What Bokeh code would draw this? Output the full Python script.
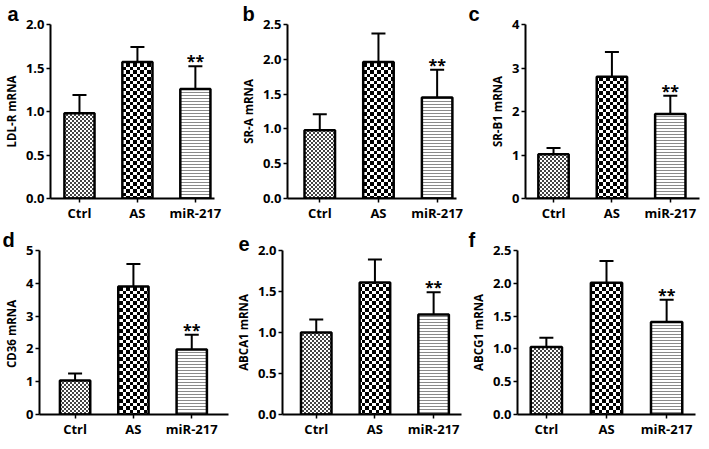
import zlib, struct, base64
from bokeh.plotting import figure
from bokeh.layouts import column, row
from bokeh.models import (Range1d, FixedTicker, Label, ImageURLTexture, Whisker,
                          ColumnDataSource, NumeralTickFormatter, TeeHead)
from bokeh.core.properties import value
from bokeh.embed import file_html
from bokeh.resources import INLINE

# ---------------- data ----------------
categories = ["Ctrl", "AS", "miR-217"]
panel_letters = ["a", "b", "c", "d", "e", "f"]
y_titles = ["LDL-R mRNA", "SR-A mRNA", "SR-B1 mRNA", "CD36  mRNA", "ABCA1 mRNA", "ABCG1 mRNA"]
marks = ["", "", "**"]

mean_a = [0.98, 1.57, 1.26]
sd_a = [0.21, 0.17, 0.26]
mean_b = [0.98, 1.96, 1.45]
sd_b = [0.23, 0.41, 0.40]
mean_c = [1.02, 2.80, 1.94]
sd_c = [0.14, 0.57, 0.42]
mean_d = [1.04, 3.90, 1.98]
sd_d = [0.21, 0.69, 0.45]
mean_e = [1.00, 1.61, 1.22]
sd_e = [0.16, 0.28, 0.27]
mean_f = [1.03, 2.01, 1.41]
sd_f = [0.14, 0.33, 0.34]

y_max = [2.0, 2.5, 4, 5, 2.0, 2.5]
y_ticks = [[0, 0.5, 1.0, 1.5, 2.0],
           [0, 0.5, 1.0, 1.5, 2.0, 2.5],
           [0, 1, 2, 3, 4],
           [0, 1, 2, 3, 4, 5],
           [0, 0.5, 1.0, 1.5, 2.0],
           [0, 0.5, 1.0, 1.5, 2.0, 2.5]]
y_formats = ["0.0", "0.0", "0", "0", "0.0", "0.0"]

means = [mean_a, mean_b, mean_c, mean_d, mean_e, mean_f]
sds = [sd_a, sd_b, sd_c, sd_d, sd_e, sd_f]

# ---------------- layout (sizes / positions) ----------------
# frame w, frame h, left, right, top, bottom borders, x_lo, x_hi, letter offset
layout = [
    (164, 174, 45, 23, 23, 23, -0.50, 2.33, -43),
    (169, 174, 47, 10, 23, 23, -0.55, 2.33, -45),
    (174, 174, 59, 2, 23, 23, -0.48, 2.50, -57),
    (189, 164, 39, 4, 26, 23, -0.61, 2.63, -37),
    (179, 164, 46, 1, 26, 23, -0.575, 2.475, -44),
    (178, 164, 55, 2, 26, 23, -0.48, 2.48, -49),
]


# ---------------- checkerboard textures (small PNG tiles) ----------------
def png_data_url(size, split, dark, light):
    rows = []
    for yy in range(size):
        r = bytearray([0])
        for xx in range(size):
            a = 0 if xx < split else 1
            b = 0 if yy < split else 1
            r.append(dark if (a + b) % 2 == 0 else light)
        rows.append(bytes(r))
    raw = b"".join(rows)

    def chunk(t, d):
        return (struct.pack(">I", len(d)) + t + d
                + struct.pack(">I", zlib.crc32(t + d) & 0xffffffff))

    data = (b"\x89PNG\r\n\x1a\n"
            + chunk(b"IHDR", struct.pack(">IIBBBBB", size, size, 8, 0, 0, 0, 0))
            + chunk(b"IDAT", zlib.compress(raw))
            + chunk(b"IEND", b""))
    return "data:image/png;base64," + base64.b64encode(data).decode()


fine_tex = ImageURLTexture(url=png_data_url(4, 2, 0x44, 0xff), repetition="repeat")
coarse_tex = ImageURLTexture(url=png_data_url(7, 4, 0x00, 0xff), repetition="repeat")

bar_styles = [
    dict(hatch_pattern=value("fine"), hatch_extra={"fine": fine_tex}),
    dict(hatch_pattern=value("coarse"), hatch_extra={"coarse": coarse_tex}),
    dict(hatch_pattern="horizontal_line", hatch_color="#8a8a8a", hatch_scale=3,
         hatch_weight=1),
]

FONT = "Open Sans"
figs = []
for k in range(6):
    fw, fh, lb, rb, tb, bb, xlo, xhi, ldx = layout[k]
    p = figure(frame_width=fw, frame_height=fh, output_backend="svg", toolbar_location=None,
               x_range=Range1d(xlo, xhi), y_range=Range1d(0, y_max[k]),
               min_border_left=lb, min_border_right=rb,
               min_border_top=tb, min_border_bottom=bb)
    p.outline_line_color = None
    p.xgrid.visible = False
    p.ygrid.visible = False
    p.background_fill_color = "white"

    # panel letter as title
    p.title.text = panel_letters[k]
    p.title.align = "left"
    p.title.offset = ldx
    p.title.standoff = 0
    p.title.text_font = "Liberation Sans"
    p.title.text_font_style = "bold"
    p.title.text_font_size = "20px"
    p.title.text_color = "black"

    xs = list(range(len(categories)))
    m = means[k]
    s = sds[k]
    for i in xs:
        src = ColumnDataSource(dict(x=[i], top=[m[i]]))
        p.vbar(x="x", top="top", width=0.52, bottom=0, source=src,
               fill_color="white", line_color="black", line_width=2.5,
               **bar_styles[i])

    wsrc = ColumnDataSource(dict(x=xs, lower=m, upper=[a + b for a, b in zip(m, s)]))
    p.add_layout(Whisker(base="x", lower="lower", upper="upper", source=wsrc,
                         dimension="height", line_width=2, line_color="black",
                         upper_head=TeeHead(size=14, line_width=2, line_color="black"),
                         lower_head=None))

    for i in xs:
        if marks[i]:
            p.add_layout(Label(x=i, y=m[i] + s[i], y_offset=5, text=marks[i],
                               text_align="center", text_baseline="alphabetic",
                               text_font=FONT, text_font_style="bold",
                               text_font_size="16px", text_color="black"))

    # axes
    p.xaxis.ticker = FixedTicker(ticks=xs)
    p.xaxis.major_label_overrides = {i: c for i, c in enumerate(categories)}
    p.yaxis.ticker = FixedTicker(ticks=y_ticks[k])
    p.yaxis.formatter = NumeralTickFormatter(format=y_formats[k])
    p.yaxis.axis_label = y_titles[k]
    for ax in (p.xaxis[0], p.yaxis[0]):
        ax.axis_line_width = 2
        ax.axis_line_color = "black"
        ax.major_tick_line_width = 1.5
        ax.major_tick_line_color = "black"
        ax.major_tick_out = 4
        ax.major_tick_in = 0
        ax.minor_tick_line_color = None
        ax.major_label_text_font = FONT
        ax.major_label_text_font_style = "bold"
        ax.major_label_text_color = "black"
        ax.major_label_text_font_size = "13px"
    p.xaxis.major_label_standoff = 1
    p.yaxis.major_label_standoff = 2
    p.yaxis.axis_label_text_font = FONT
    p.yaxis.axis_label_text_font_style = "bold"
    p.yaxis.axis_label_text_font_size = "11.5px"
    p.yaxis.axis_label_text_color = "black"
    p.yaxis.axis_label_standoff = 4
    figs.append(p)

layout_all = column(row(figs[0], figs[1], figs[2]), row(figs[3], figs[4], figs[5]))

with open("out.html", "w") as f:
    f.write(file_html(layout_all, INLINE))
